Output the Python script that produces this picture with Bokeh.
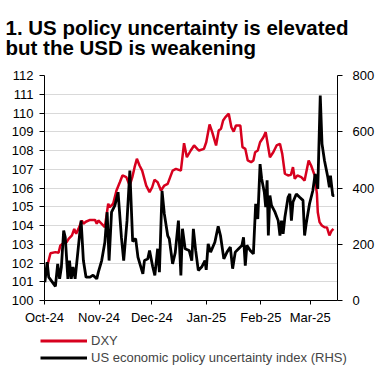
import pandas as pd
from bokeh.plotting import figure
from bokeh.models import (Range1d, LinearAxis, FixedTicker, DatetimeTickFormatter,
                          Legend, LegendItem, ColumnDataSource, Label)
from bokeh.embed import file_html
from bokeh.resources import INLINE

# ---------------- data ----------------
start_date = "2024-10-01"
end_days = 166.5  # x-axis extends to mid-March 2025

month_ticks = ["2024-10-01", "2024-11-01", "2024-12-01", "2025-01-01", "2025-02-01", "2025-03-01"]

# DXY: days since 1 Oct 2024, index level (LHS)
dxy_days = [0.6, 1.9, 3.4, 6.2, 8.0, 9.0, 10.9, 12.5, 13.7, 15.6, 16.9, 18.0, 19.3, 21.2, 22.1,
            23.5, 25.9, 28.7, 29.7, 30.6, 32.5, 34.3, 36.2, 37.1, 39.0, 40.9, 42.8, 44.3, 46.5,
            48.4, 49.9, 51.2, 52.5, 54.0, 55.5, 57.8, 59.7, 61.2, 62.5, 64.3, 66.2, 68.1, 70.0,
            72.8, 74.7, 77.5, 79.3, 80.9, 83.1, 85.0, 86.8, 87.8, 90.6, 91.9, 93.8, 95.3, 97.5,
            99.0, 100.3, 101.5, 102.8, 104.7, 106.2, 107.5, 108.8, 111.3, 112.5, 114.1, 115.5,
            117.4, 118.7, 119.7, 121.2, 122.5, 124.4, 125.7, 126.8, 128.1, 130.0, 131.9, 133.8,
            135.1, 136.6, 138.4, 140.0, 141.2, 142.2, 143.7, 145.9, 147.8, 150.1, 151.5, 153.5,
            154.8, 155.3, 156.3, 157.6, 159.1, 160.5, 161.9, 163.2, 164.2]
dxy_values = [101.33, 101.96, 102.52, 102.58, 102.55, 102.93, 103.06, 103.10, 103.29, 103.47,
              103.82, 103.56, 103.82, 104.27, 104.09, 104.20, 104.30, 104.30, 104.09, 104.27,
              104.09, 103.91, 105.16, 104.98, 105.16, 105.87, 106.31, 106.67, 106.58, 106.13,
              106.58, 107.11, 107.56, 107.20, 106.93, 106.13, 105.78, 106.04, 106.44, 106.31,
              105.87, 106.13, 106.22, 106.93, 107.02, 106.93, 108.39, 107.64, 108.00, 108.27,
              108.09, 108.00, 108.09, 108.44, 109.39, 108.98, 108.27, 109.07, 109.16, 109.60,
              109.78, 109.96, 109.24, 109.01, 109.33, 109.33, 108.18, 108.09, 107.47, 107.38,
              107.47, 107.91, 108.00, 108.44, 108.71, 108.98, 108.36, 107.64, 107.91, 108.27,
              108.36, 107.82, 106.76, 106.67, 106.70, 107.11, 106.49, 106.67, 106.58, 106.40,
              107.47, 107.20, 106.67, 105.69, 104.71, 104.18, 104.00, 103.91, 103.90, 103.47,
              103.73, 103.82]

# US economic policy uncertainty index: days since 1 Oct 2024, index (RHS)
epu_days = [0.2, 1.5, 2.4, 6.2, 7.5, 8.6, 9.6, 10.9, 11.8, 13.3, 14.2, 15.2, 16.2, 17.4, 19.9,
            20.8, 22.1, 23.6, 25.9, 27.6, 29.7, 30.6, 32.5, 34.3, 35.6, 36.7, 38.1, 40.0, 41.8,
            43.7, 45.0, 46.9, 48.5, 50.1, 51.8, 53.1, 55.9, 56.8, 58.7, 59.7, 61.5, 62.7, 64.3,
            65.3, 66.8, 68.1, 70.0, 70.9, 72.8, 74.3, 76.1, 77.5, 78.4, 79.9, 82.2, 83.7, 84.6,
            85.9, 87.4, 89.3, 91.2, 91.9, 93.0, 94.4, 96.8, 98.7, 100.0, 101.9, 103.7, 105.6,
            106.9, 108.4, 110.3, 112.2, 113.1, 114.1, 115.0, 116.9, 118.7, 120.0, 121.2, 122.5,
            123.4, 124.9, 125.7, 126.5, 127.2, 128.1, 129.0, 131.0, 132.8, 133.8, 134.7, 135.6,
            136.6, 138.4, 139.4, 140.3, 141.2, 143.1, 145.0, 146.9, 147.8, 148.7, 150.6, 152.5,
            153.8, 155.3, 156.7, 157.7, 159.1, 161.0, 161.9, 162.5, 163.8, 164.7]
epu_values = [65, 136, 83, 50, 130, 77, 119, 249, 225, 77, 142, 77, 119, 77, 231,
              284, 142, 83, 83, 90, 77, 101, 142, 207, 314, 142, 314, 338, 385,
              225, 142, 284, 462, 210, 220, 154, 95, 142, 148, 178, 120, 89, 184,
              101, 390, 308, 231, 219, 130, 170, 284, 89, 255, 184, 178, 142, 255,
              178, 107, 119, 142, 109, 201, 172, 207, 264, 231, 148, 172, 190,
              113, 172, 184, 196, 225, 124, 196, 178, 166, 344, 290, 485,
              433, 385, 332, 427, 231, 373, 338, 314, 284, 231, 284, 237,
              296, 367, 379, 284, 350, 379, 367, 356, 231, 273, 344, 391,
              450, 397, 729, 557, 498, 438, 403, 444, 373, 373]

left_ticks = list(range(100, 113))
right_ticks = [0, 200, 400, 600, 800]

title_line1 = "1. US policy uncertainty is elevated"
title_line2 = "but the USD is weakening"
label_dxy = "DXY"
label_epu = "US economic policy uncertainty index (RHS)"

# ---------------- build ----------------
base = pd.Timestamp(start_date)
dxy_src = ColumnDataSource(dict(x=base + pd.to_timedelta(dxy_days, unit="D"), y=dxy_values))
epu_src = ColumnDataSource(dict(x=base + pd.to_timedelta(epu_days, unit="D"), y=epu_values))

FONT = "Liberation Sans"
RED = "#D7001E"
W = 377
TITLE_H = 60


def strip(height):
    f = figure(width=W, height=height, output_backend="svg", toolbar_location=None,
               x_axis_location=None, y_axis_location=None, min_border=0,
               x_range=Range1d(0, 1), y_range=Range1d(0, 1))
    f.grid.visible = False
    f.outline_line_color = None
    return f


# title strip
t = strip(TITLE_H)
for txt, ypos in ((title_line1, TITLE_H - 27), (title_line2, TITLE_H - 47)):
    t.add_layout(Label(x=5, y=ypos, x_units="screen", y_units="screen", text=txt,
                       text_font=FONT, text_font_size="20.5px", text_font_style="bold",
                       text_color="black", text_baseline="alphabetic", text_align="left"))

# main chart
p = figure(width=W, height=328 - TITLE_H, x_axis_type="datetime", output_backend="svg",
           toolbar_location=None,
           x_range=Range1d(base, base + pd.Timedelta(days=end_days)),
           y_range=Range1d(100, 112),
           min_border_left=44, min_border_right=W - 339, min_border_top=75 - TITLE_H,
           min_border_bottom=28)
p.extra_y_ranges = {"epu": Range1d(0, 800)}

r_dxy = p.line("x", "y", source=dxy_src, line_color=RED, line_width=2.5)
r_epu = p.line("x", "y", source=epu_src, line_color="black", line_width=2.8, y_range_name="epu")

right_axis = LinearAxis(y_range_name="epu", ticker=FixedTicker(ticks=right_ticks))
p.add_layout(right_axis, "right")

p.yaxis[0].ticker = FixedTicker(ticks=left_ticks)
p.xaxis.ticker = FixedTicker(ticks=[pd.Timestamp(tk).value // 10**6 for tk in month_ticks])
fmt = "%b-%y"
p.xaxis.formatter = DatetimeTickFormatter(months=fmt, days=fmt, years=fmt, hours=fmt,
                                          minutes=fmt, seconds=fmt, milliseconds=fmt,
                                          microseconds=fmt, minsec=fmt, hourmin=fmt)

for ax in p.axis:
    ax.axis_line_color = "black"
    ax.axis_line_width = 1
    ax.major_tick_line_color = "black"
    ax.minor_tick_line_color = None
    ax.major_tick_in = 0
    ax.major_tick_out = 5
    ax.major_label_text_font = FONT
    ax.major_label_text_font_size = "13px"
    ax.major_label_text_color = "black"
p.yaxis[0].major_label_standoff = 6
right_axis.major_label_standoff = 10
p.xaxis.major_tick_out = 4
p.xaxis.major_label_standoff = 5

p.xgrid.visible = False
p.ygrid.grid_line_color = "#D9D9D9"
p.ygrid.grid_line_width = 1
p.outline_line_color = None

# legend strip below the chart (separate root, so frames are not aligned)
q = strip(38)
# same sources; they fall outside this strip's ranges, only the legend swatches show
q_dxy = q.line("x", "y", source=dxy_src, line_color=RED, line_width=3)
q_epu = q.line("x", "y", source=epu_src, line_color="black", line_width=3)
legend = Legend(items=[LegendItem(label=label_dxy, renderers=[q_dxy]),
                       LegendItem(label=label_epu, renderers=[q_epu])],
                location=(40, 0), orientation="vertical",
                glyph_width=47, glyph_height=17, label_height=17, spacing=0,
                padding=0, margin=0, label_standoff=4,
                border_line_alpha=0, background_fill_alpha=0,
                label_text_font=FONT, label_text_font_size="13px")
q.add_layout(legend, "center")

open("out.html", "w").write(file_html([t, p, q], INLINE))
